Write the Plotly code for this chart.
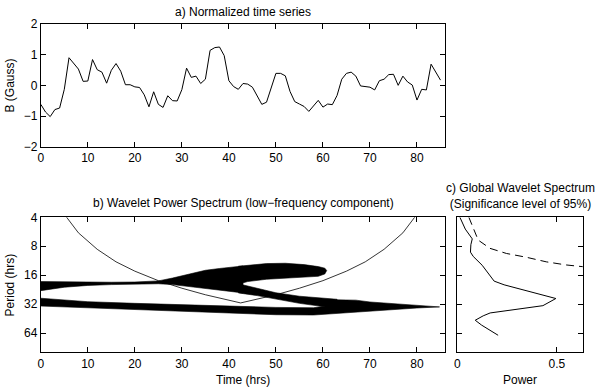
import plotly.graph_objects as go

# a) normalized time series (hourly samples)
hours = list(range(0, 86))
b_gauss = [-0.62, -0.87, -1.02, -0.79, -0.74, -0.13, 0.90, 0.70, 0.53, 0.13,
           0.14, 0.84, 0.51, 0.43, 0.07, 0.49, 0.71, 0.46, 0.02, 0.02,
           -0.05, -0.07, -0.31, -0.70, -0.21, -0.62, -0.72, -0.34, -0.50, -0.51,
           -0.14, 0.56, 0.26, 0.30, 0.06, 0.20, 1.14, 1.23, 1.25, 0.97,
           0.15, -0.04, -0.13, 0.06, 0.04, -0.06, -0.34, -0.62, -0.55, -0.07,
           0.39, 0.39, 0.31, -0.20, -0.53, -0.61, -0.69, -0.85, -0.66, -0.49,
           -0.71, -0.61, -0.63, -0.33, 0.20, 0.39, 0.43, 0.30, -0.02, -0.04,
           -0.06, -0.15, 0.15, 0.20, 0.35, 0.36, 0.00, 0.30, 0.11, 0.01,
           -0.48, -0.13, -0.15, 0.69, 0.43, 0.17]

# b) significant wavelet power regions (time, period bounds in hrs)
band_t = [0, 5, 10, 15, 20, 25, 28, 31, 35, 38, 40, 43]
band_top = [18.6, 18.8, 18.9, 18.9, 18.8, 18.3, 17.1, 15.9, 14.2, 13.6, 13.2, 12.8]
band_bot = [23.1, 21.3, 20.4, 20.0, 19.7, 19.6, 20.0, 20.8, 22.0, 22.8, 23.4, 24.4]

blob_t = [42, 44, 48, 52, 56, 59, 60.4, 60.8]
blob_top = [12.9, 12.6, 12.1, 12.0, 12.4, 13.0, 13.5, 14.3]
blob_bot = [19.8, 18.6, 17.6, 17.1, 16.8, 16.4, 15.5, 14.3]

arm_t = [42, 46, 50, 55, 60, 63]
arm_top = [19.6, 21.8, 24.3, 26.4, 27.9, 28.4]
arm_bot = [24.4, 26.0, 28.0, 31.3, 33.8, 35.0]

low_t = [0, 5, 10, 20, 30, 40, 50, 58, 61, 63, 67, 70, 75, 80, 84.8]
low_top = [27.7, 29.0, 30.1, 31.3, 32.4, 33.4, 34.5, 34.8, 33.1, 28.8, 29.0, 30.3, 31.6, 32.9, 33.9]
low_bot = [33.4, 34.3, 35.3, 36.3, 37.8, 39.4, 41.1, 41.4, 40.8, 40.2, 38.9, 37.8, 36.3, 35.0, 34.1]

# cone of influence
coi_t = [3, 5.5, 8, 12, 16, 20, 25, 30, 35, 42.5, 50, 55, 60, 65, 69, 73, 77, 79.5, 82]
coi_p = [2.2, 4.0, 5.8, 8.6, 11.6, 14.5, 18.2, 21.8, 25.5, 31.0, 25.5, 21.8, 18.2, 14.5, 11.6, 8.6, 5.8, 4.0, 2.2]

# c) global wavelet spectrum and 95% significance
gws_period = [4.0, 5.3, 6.7, 7.7, 9.2, 10.2, 12.6, 16.0, 18.4, 20.1, 23.4, 27.9, 33.1, 39.4, 42.2, 46.9, 52.7, 67.2]
gws_power = [0.013, 0.040, 0.075, 0.068, 0.066, 0.080, 0.125, 0.165, 0.185, 0.235, 0.35, 0.495, 0.43, 0.165, 0.13, 0.09, 0.122, 0.205]
sig_period = [4.0, 5.2, 6.9, 8.4, 9.5, 10.4, 11.6, 12.5, 13.0, 13.9, 14.9]
sig_power = [0.058, 0.08, 0.105, 0.164, 0.247, 0.347, 0.447, 0.547, 0.627, 0.75, 0.9]

period_ticks = [4, 8, 16, 32, 64]

FONT = "Liberation Sans, Arial, sans-serif"
fig = go.Figure()

fig.add_trace(go.Scatter(x=hours, y=b_gauss, mode="lines",
                         line=dict(color="black", width=1), xaxis="x", yaxis="y"))


def region(t, top, bot):
    fig.add_trace(go.Scatter(x=t + t[::-1], y=top + bot[::-1], mode="lines",
                             fill="toself", fillcolor="black",
                             line=dict(color="black", width=0.6),
                             xaxis="x2", yaxis="y2"))


region(band_t, band_top, band_bot)
region(blob_t, blob_top, blob_bot)
region(arm_t, arm_top, arm_bot)
region(low_t, low_top, low_bot)

fig.add_trace(go.Scatter(x=coi_t, y=coi_p, mode="lines",
                         line=dict(color="black", width=0.8), xaxis="x2", yaxis="y2"))

fig.add_trace(go.Scatter(x=gws_power, y=gws_period, mode="lines",
                         line=dict(color="black", width=1), xaxis="x3", yaxis="y3"))
fig.add_trace(go.Scatter(x=sig_power, y=sig_period, mode="lines",
                         line=dict(color="black", width=1, dash="8px,5px"),
                         xaxis="x3", yaxis="y3"))

ax = dict(showline=True, linecolor="black", linewidth=1, mirror="ticks",
          ticks="inside", ticklen=5, tickcolor="black", showgrid=False,
          zeroline=False, automargin=False,
          tickfont=dict(family=FONT, size=12, color="black"))

per_range = [2.004, 0.602]  # log10, reversed: ~101 at bottom, 4 at top

fig.update_layout(
    width=600, height=387, showlegend=False,
    paper_bgcolor="white", plot_bgcolor="white",
    margin=dict(l=0, r=0, t=0, b=0, autoexpand=False),
    font=dict(family=FONT, size=12, color="black"),
    xaxis=dict(ax, domain=[0.068, 0.742], range=[0, 86], tickvals=list(range(0, 90, 10)),
               anchor="y"),
    yaxis=dict(ax, domain=[0.621, 0.938], range=[-2, 2], tickvals=[-2, -1, 0, 1, 2],
               anchor="x"),
    xaxis2=dict(ax, domain=[0.068, 0.742], range=[0, 86], tickvals=list(range(0, 90, 10)),
                anchor="y2"),
    yaxis2=dict(ax, domain=[0.0897, 0.4385], type="log", range=per_range,
                tickvals=period_ticks, ticktext=[str(p) for p in period_ticks], anchor="x2"),
    xaxis3=dict(ax, domain=[0.7622, 0.9712], range=[0, 0.63], tickvals=[0, 0.5],
                ticktext=["0", "0.5"], anchor="y3"),
    yaxis3=dict(ax, domain=[0.0897, 0.4385], type="log", range=per_range,
                tickvals=period_ticks, showticklabels=False, anchor="x3"),
)

notes = [
    ("a) Normalized time series", 0.405, 0.970, 0),
    ("b) Wavelet Power Spectrum (low\u2212frequency component)", 0.405, 0.4747, 0),
    ("c) Global Wavelet Spectrum<br>(Significance level of 95%)", 0.8667, 0.494, 0),
    ("B (Gauss)", 0.017, 0.7796, -90),
    ("Period (hrs)", 0.016, 0.264, -90),
    ("Time (hrs)", 0.405, 0.018, 0),
    ("Power", 0.8667, 0.019, 0),
]
for text, x, y, ang in notes:
    fig.add_annotation(text=text, x=x, y=y, xref="paper", yref="paper",
                       xanchor="center", yanchor="middle", showarrow=False,
                       textangle=ang, font=dict(family=FONT, size=12, color="black"))

# page has a default 8px body margin; drop it so the figure sits at the corner
fig.write_html("out.html", config={"displayModeBar": False},
               post_script="document.body.style.margin='0';")
